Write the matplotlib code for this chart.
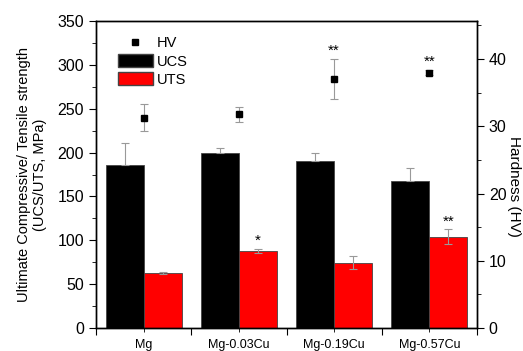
import matplotlib
matplotlib.use("Agg")
import matplotlib.pyplot as plt
import numpy as np
from matplotlib.ticker import MultipleLocator, FixedLocator, NullFormatter
from matplotlib.lines import Line2D
from matplotlib.patches import Patch

plt.rcParams['font.family'] = ['Liberation Sans', 'DejaVu Sans']

categories = ["Mg", "Mg-0.03Cu", "Mg-0.19Cu", "Mg-0.57Cu"]
ucs = [186, 199.5, 190.5, 168]
ucs_err = [25, 5.5, 9, 14]
uts = [62.5, 88, 74.5, 104]
uts_err = [1.5, 2, 7.5, 8.5]
hv = [31.3, 31.8, 37.0, 38.0]
hv_err = [2.0, 1.1, 3.0, 0.4]
uts_marks = ["", "*", "", "**"]
hv_marks = ["", "", "**", "**"]

fig = plt.figure(figsize=(5.23, 3.51), dpi=100)
ax = fig.add_axes([96/523, 1-328/351, (477-96)/523, (328-21)/351])
x = np.arange(len(categories))
w = 0.4
ax.bar(x - w/2, ucs, w, color='black', edgecolor='#444444', linewidth=0.6,
       yerr=[[0]*4, ucs_err], error_kw=dict(ecolor='#999999', capsize=3, elinewidth=0.8, capthick=0.8))
ax.bar(x + w/2, uts, w, color='#ff0000', edgecolor='#444444', linewidth=0.6,
       yerr=uts_err, error_kw=dict(ecolor='#999999', capsize=3, elinewidth=0.8, capthick=0.8))
for i, m in enumerate(uts_marks):
    if m:
        ax.text(x[i] + w/2, uts[i] + uts_err[i] + 1, m, ha='center', va='bottom', fontsize=11)
ax.set_xlim(-0.5, 3.5)
ax.set_ylim(0, 350)
ax.yaxis.set_major_locator(MultipleLocator(50))
ax.yaxis.set_minor_locator(MultipleLocator(25))
ax.xaxis.set_major_locator(FixedLocator([-0.5, 0.5, 1.5, 2.5, 3.5]))
ax.xaxis.set_major_formatter(NullFormatter())
ax.xaxis.set_minor_locator(FixedLocator(x))
ax.set_xticklabels(categories, minor=True)
ax.tick_params(axis='x', which='minor', length=3, labelsize=9, pad=5)
ax.tick_params(axis='x', which='major', length=5)
ax.tick_params(axis='y', which='major', length=5, labelsize=11.5)
ax.tick_params(axis='y', which='minor', length=3)
ax.set_ylabel("Ultimate Compressive/ Tensile strength\n(UCS/UTS, MPa)", fontsize=10.5,
              linespacing=1.1, va='center')
ax.yaxis.set_label_coords(-0.168, 0.5)

ax2 = ax.twinx()
ax2.errorbar(x, hv, yerr=hv_err, fmt='s', color='black', markersize=5,
             ecolor='#999999', capsize=3, elinewidth=0.8, capthick=0.8)
for i, m in enumerate(hv_marks):
    if m:
        ax2.text(x[i], hv[i] + hv_err[i] + 0.2, m, ha='center', va='bottom', fontsize=11)
ax2.set_ylim(0, 350*40/306.6)
ax2.yaxis.set_major_locator(MultipleLocator(10))
ax2.yaxis.set_minor_locator(MultipleLocator(5))
ax2.tick_params(axis='y', which='major', length=5, labelsize=11.5)
ax2.tick_params(axis='y', which='minor', length=3)
ax2.set_ylabel("Hardness (HV)", fontsize=11, rotation=270, va='center')
ax2.yaxis.set_label_coords(1.097, 0.46)

for a in (ax, ax2):
    for s in a.spines.values():
        s.set_linewidth(1.0)

handles = [Line2D([], [], marker='s', color='black', linestyle='none', markersize=5),
           Patch(facecolor='black', edgecolor='#444444'),
           Patch(facecolor='#ff0000', edgecolor='#444444')]
ax.legend(handles, ["HV", "UCS", "UTS"], loc='upper left', bbox_to_anchor=(0.03, 0.985),
          frameon=False, fontsize=10.5, handlelength=2.4, handleheight=1.0,
          handletextpad=0.3, labelspacing=0.25, borderpad=0.2)

fig.savefig("out.png", dpi=100)
